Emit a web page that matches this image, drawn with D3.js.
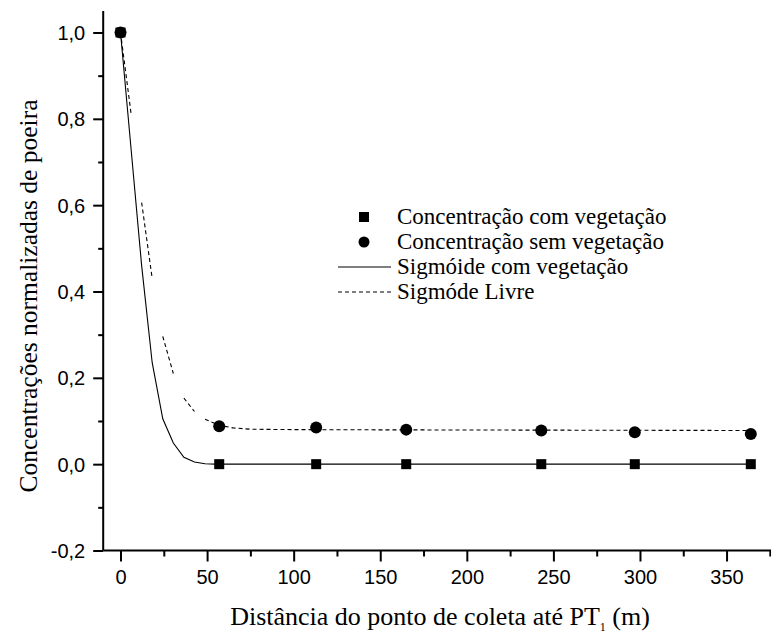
<!DOCTYPE html>
<html><head><meta charset="utf-8">
<script src="https://cdn.jsdelivr.net/npm/d3@7/dist/d3.min.js"></script>
<style>
html,body{margin:0;padding:0;background:#fff;}
svg{display:block;}
</style></head>
<body><svg id="c" width="771" height="634"></svg>
<script>
// ---- data ----
const distVeg = [0, 57, 113, 165, 243, 297, 364];
const concVeg = [1.0, 0, 0, 0, 0, 0, 0];
const distSem = [0, 57, 113, 165, 243, 297, 364];
const concSem = [1.0, 0.088, 0.085, 0.080, 0.078, 0.074, 0.070];

const fitVegX = [0, 6.1, 12.2, 18.3, 24.4, 30.5, 36.6, 42.7, 48.8, 54.9, 61, 364];
const fitVegY = [1.0, 0.73, 0.46, 0.235, 0.105, 0.049, 0.016, 0.005, 0.001, 0, 0, 0];

const fitLivreX = [0, 6.1, 12.2, 18.3, 24.4, 30.5, 36.6, 42.7, 48.8, 57, 65, 75, 100, 150, 364];
const fitLivreY = [1.0, 0.812, 0.606, 0.43, 0.296, 0.21, 0.153, 0.122, 0.104, 0.09, 0.084, 0.081, 0.080, 0.0795, 0.078];
// segments of the free sigmoid that are not drawn in the original (index of segment start)
const livreHiddenSegments = [1, 3, 5, 7];

const yMajorTicks = [-0.2, 0.0, 0.2, 0.4, 0.6, 0.8, 1.0];
const yMinorTicks = [-0.1, 0.1, 0.3, 0.5, 0.7, 0.9];
const xMajorTicks = [0, 50, 100, 150, 200, 250, 300, 350];
const xMinorTicks = [25, 75, 125, 175, 225, 275, 325, 375];

const legendLabels = ["Concentração com vegetação", "Concentração sem vegetação", "Sigmóide com vegetação", "Sigmóde Livre"];

// ---- chart ----
const svg = d3.select("#c");
const x = d3.scaleLinear().domain([-10, 380]).range([103.2, 778.5]);
const y = d3.scaleLinear().domain([-0.2, 1.05]).range([550.5, 10.9]);
const sansFont = "'Liberation Sans', Arial, sans-serif";
const serifFont = "'Liberation Serif', 'Times New Roman', serif";
const fmt = d => d3.format(".1f")(d).replace(".", ",").replace("−", "-");

// axes
const gy = svg.append("g").attr("transform", `translate(${x(-10)},0)`);
gy.call(d3.axisLeft(y).tickValues(yMajorTicks).tickSize(10).tickPadding(8).tickFormat(fmt));
const gyMinor = svg.append("g").attr("transform", `translate(${x(-10)},0)`);
gyMinor.call(d3.axisLeft(y).tickValues(yMinorTicks).tickSize(5).tickFormat(""));
const gx = svg.append("g").attr("transform", `translate(0,${y(-0.2)})`);
gx.call(d3.axisBottom(x).tickValues(xMajorTicks).tickSize(11).tickPadding(8).tickFormat(d3.format("d")));
const gxMinor = svg.append("g").attr("transform", `translate(0,${y(-0.2)})`);
gxMinor.call(d3.axisBottom(x).tickValues(xMinorTicks).tickSize(6).tickFormat(""));

svg.selectAll(".domain").attr("stroke", "#000").attr("stroke-width", 2);
svg.selectAll(".tick line").attr("stroke", "#000").attr("stroke-width", 2);
svg.selectAll(".tick text").attr("font-family", sansFont).attr("font-size", 20).attr("fill", "#000");
gy.selectAll(".tick text").attr("dy", "0.35em");
gy.select(".domain").attr("d", `M0,${y(1.05)}V${y(-0.2)}`);
gyMinor.select(".domain").remove();
gx.select(".domain").attr("d", `M${x(-10)},0H${x(380)}`);
gxMinor.select(".domain").remove();

// curves
const line = d3.line().x(d => x(d[0])).y(d => y(d[1]));
const vegPts = fitVegX.map((d, i) => [d, fitVegY[i]]);
svg.append("path").attr("d", line(vegPts)).attr("fill", "none").attr("stroke", "#000").attr("stroke-width", 1.1);

const livrePts = fitLivreX.map((d, i) => [d, fitLivreY[i]]);
const pieces = [];
let cur = [livrePts[0]];
for (let i = 1; i < livrePts.length; i++) {
  if (livreHiddenSegments.includes(i - 1)) { if (cur.length > 1) pieces.push(cur); cur = [livrePts[i]]; }
  else cur.push(livrePts[i]);
}
if (cur.length > 1) pieces.push(cur);
svg.selectAll("path.livre").data(pieces).enter().append("path").attr("class", "livre")
  .attr("d", d => line(d)).attr("fill", "none").attr("stroke", "#000").attr("stroke-width", 1.1)
  .attr("stroke-dasharray", "4,3");

// points
svg.selectAll("circle.sem").data(distSem.map((d, i) => [d, concSem[i]])).enter().append("circle").attr("class", "sem")
  .attr("cx", d => x(d[0])).attr("cy", d => y(d[1])).attr("r", 6).attr("fill", "#000");
const sq = 10;
svg.selectAll("rect.veg").data(distVeg.map((d, i) => [d, concVeg[i]])).enter().append("rect").attr("class", "veg")
  .attr("x", d => x(d[0]) - sq / 2).attr("y", d => y(d[1]) - sq / 2).attr("width", sq).attr("height", sq).attr("fill", "#000");

// legend
const lg = svg.append("g");
const rowY = [217, 242, 267, 292];
lg.append("rect").attr("x", 364 - 5).attr("y", rowY[0] - 5).attr("width", 10).attr("height", 10).attr("fill", "#000");
lg.append("circle").attr("cx", 364).attr("cy", rowY[1]).attr("r", 5.5).attr("fill", "#000");
lg.append("line").attr("x1", 338).attr("x2", 391).attr("y1", rowY[2]).attr("y2", rowY[2]).attr("stroke", "#000").attr("stroke-width", 1.1);
lg.append("line").attr("x1", 338).attr("x2", 391).attr("y1", rowY[3]).attr("y2", rowY[3]).attr("stroke", "#000").attr("stroke-width", 1.1).attr("stroke-dasharray", "4,3");
lg.selectAll("text").data(legendLabels).enter().append("text")
  .attr("x", 397).attr("y", (d, i) => rowY[i] + 7)
  .attr("font-family", serifFont).attr("font-size", 23).attr("fill", "#000").text(d => d);

// axis titles
const xt = svg.append("text").attr("x", 440).attr("y", 625).attr("text-anchor", "middle")
  .attr("font-family", serifFont).attr("font-size", 26).attr("fill", "#000");
xt.append("tspan").text("Distância do ponto de coleta até PT");
xt.append("tspan").attr("font-size", 12).attr("dy", 6).text("1");
xt.append("tspan").attr("dy", -6).text(" (m)");

svg.append("text").attr("transform", "translate(37,296) rotate(-90)").attr("text-anchor", "middle")
  .attr("font-family", serifFont).attr("font-size", 25.5).attr("fill", "#000")
  .text("Concentrações normalizadas de poeira");
</script></body></html>
